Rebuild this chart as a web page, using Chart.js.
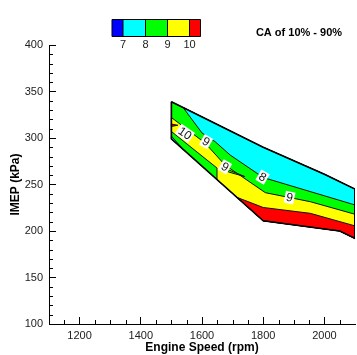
<!DOCTYPE html>
<html>
<head>
<meta charset="utf-8">
<title>CA of 10% - 90%</title>
<script src="https://cdn.jsdelivr.net/npm/chart.js@4"></script>
<style>
  html, body { margin: 0; padding: 0; background: #fff; }
  canvas { display: block; }
</style>
</head>
<body>
<canvas id="chart" width="357" height="355"></canvas>
<script>
// ============================================================
// 数据：坐标轴刻度、图例等级、各个等值区的边界点 (rpm, kPa)
// ============================================================
const xTicks = [1200, 1400, 1600, 1800, 2000];
const yTicks = [100, 150, 200, 250, 300, 350, 400];
const legendLevels = ['7', '8', '9', '10'];

// 外轮廓（整个测量区域）
const edgeRpm  = [1500, 1800, 2000, 2100, 2100, 2050, 1800, 1500, 1500];
const edgeImep = [339, 290, 261, 245, 192, 200, 211, 299, 339];

// 青色 7~8 区
const cyanRpm  = [1538, 1800, 2000, 2100, 2100, 1800, 1692, 1643, 1600, 1538];
const cyanImep = [332.8, 290, 261, 245, 228, 257.5, 281.7, 296, 305.4, 332.8];

// 黄色 9~10 区
const yellowRpm  = [1500, 1610, 1675, 1807, 1954, 2100, 2100, 2050, 1800, 1649, 1649, 1500, 1500];
const yellowImep = [322, 294.6, 271, 241.2, 231.5, 218, 192, 200, 211, 255.3, 267.7, 307, 322];

// 红色 >10 区
const redRpm  = [1714, 1800, 1954, 2100, 2100, 2050, 1800, 1714];
const redImep = [236.2, 225.3, 219, 205.5, 192, 200, 211, 236.2];

// 左上角的小红条、左下角的小青条、中间的绿色舌形
const redTipRpm  = [1500, 1521, 1500, 1500];
const redTipImep = [315, 313.7, 312.4, 315];
const cyanTipRpm  = [1500, 1540, 1500, 1500];
const cyanTipImep = [302, 287.3, 299, 302];
const tongueRpm  = [1678, 1740, 1686, 1678];
const tongueImep = [267, 258.5, 263.5, 267];

// 等值线标注
const labelText = ['10', '9', '9', '8', '9'];
const labelRpm  = [1544, 1613, 1675, 1798, 1886];
const labelImep = [305, 296, 269, 258, 236];
const labelAngle = [35, 30, 30, 30, 12];

// ============================================================
// 工具函数
// ============================================================
function toPoints(rpm, imep) {
    return rpm.map((x, i) => ({ x: x, y: imep[i] }));
}

// 一个封闭的多边形区域：fill 'shape' 填充内部
function region(rpm, imep, color, order) {
    return {
        data: toPoints(rpm, imep),
        backgroundColor: color,
        borderColor: '#111',
        borderWidth: 1,
        fill: 'shape',
        pointRadius: 0,
        tension: 0,
        order: order   // order 越大越先画（在下层）
    };
}

// ============================================================
// 插件：标注、次刻度、色标和标题
// ============================================================
const contourLabels = {
    id: 'contourLabels',
    afterDatasetsDraw(chart) {
        const { ctx, scales: { x, y } } = chart;
        ctx.save();
        ctx.font = '12px "Liberation Sans", Arial, sans-serif';
        ctx.textAlign = 'center';
        ctx.textBaseline = 'middle';
        labelText.forEach((t, i) => {
            ctx.save();
            ctx.translate(x.getPixelForValue(labelRpm[i]), y.getPixelForValue(labelImep[i]));
            ctx.rotate(labelAngle[i] * Math.PI / 180);
            const w = ctx.measureText(t).width + 3;
            ctx.fillStyle = '#fff';
            ctx.fillRect(-w / 2, -6, w, 12);
            ctx.fillStyle = '#111';
            ctx.fillText(t, 0, 0.5);
            ctx.restore();
        });
        ctx.restore();
    }
};

const minorTicks = {
    id: 'minorTicks',
    afterDraw(chart) {
        const { ctx, scales: { x, y } } = chart;
        ctx.save();
        ctx.strokeStyle = '#000';
        ctx.lineWidth = 1;
        ctx.beginPath();
        for (let v = 1150; v < 2100; v += 50) {
            if (v % 200 === 0) continue;
            const px = Math.round(x.getPixelForValue(v)) + 0.5;
            ctx.moveTo(px, y.bottom);
            ctx.lineTo(px, y.bottom - 4);
        }
        for (let v = 110; v < 400; v += 10) {
            if (v % 50 === 0) continue;
            const py = Math.round(y.getPixelForValue(v)) + 0.5;
            ctx.moveTo(x.left, py);
            ctx.lineTo(x.left + 4, py);
        }
        ctx.stroke();
        ctx.restore();
    }
};

const header = {
    id: 'header',
    afterDraw(chart) {
        const ctx = chart.ctx;
        ctx.save();
        // 色标
        const colors = ['#0000ff', '#00ffff', '#00ff00', '#ffff00', '#ff0000'];
        const edges = [112, 123, 145.5, 167.5, 189.5, 200.5];
        colors.forEach((c, i) => {
            ctx.fillStyle = c;
            ctx.fillRect(edges[i], 19.5, edges[i + 1] - edges[i], 17);
        });
        ctx.strokeStyle = '#000';
        ctx.lineWidth = 1;
        ctx.beginPath();
        edges.forEach(e => { ctx.moveTo(e, 19.5); ctx.lineTo(e, 36.5); });
        ctx.moveTo(112, 19.5); ctx.lineTo(200.5, 19.5);
        ctx.moveTo(112, 36.5); ctx.lineTo(200.5, 36.5);
        ctx.stroke();
        ctx.fillStyle = '#222';
        ctx.font = '11px "Liberation Sans", Arial, sans-serif';
        ctx.textAlign = 'center';
        ctx.textBaseline = 'middle';
        legendLevels.forEach((t, i) => ctx.fillText(t, edges[i + 1], 44.5));
        // 标题
        ctx.fillStyle = '#000';
        ctx.font = 'bold 11px "Liberation Sans", Arial, sans-serif';
        ctx.fillText('CA of 10% - 90%', 299, 32.5);
        ctx.restore();
    }
};

// ============================================================
// 主函数
// ============================================================
function initChart() {
    const ctx = document.getElementById('chart').getContext('2d');
    const tickFont = { family: '"Liberation Sans", Arial, sans-serif', size: 11 };
    const titleFont = { family: '"Liberation Sans", Arial, sans-serif', size: 12, weight: 'bold' };

    new Chart(ctx, {
        type: 'line',
        data: {
            datasets: [
                // 外轮廓线（最上层）
                {
                    data: toPoints(edgeRpm, edgeImep),
                    borderColor: '#000',
                    borderWidth: 1.6,
                    fill: false,
                    pointRadius: 0,
                    order: 0
                },
                region(cyanTipRpm, cyanTipImep, '#00ffff', 1),
                region(cyanRpm, cyanImep, '#00ffff', 2),
                region(redTipRpm, redTipImep, '#ff0000', 3),
                region(redRpm, redImep, '#ff0000', 4),
                region(tongueRpm, tongueImep, '#00ff00', 5),
                region(yellowRpm, yellowImep, '#ffff00', 6),
                region(edgeRpm, edgeImep, '#00ff00', 7)
            ]
        },
        options: {
            responsive: false,
            devicePixelRatio: 1,
            animation: false,
            layout: { padding: { top: 45, right: 2, bottom: 0, left: 0 } },
            plugins: {
                legend: { display: false },
                tooltip: { enabled: false }
            },
            scales: {
                x: {
                    type: 'linear',
                    min: 1100,
                    max: 2100,
                    afterBuildTicks: s => { s.ticks = xTicks.map(v => ({ value: v })); },
                    afterFit: s => { s.height = 31; },
                    grid: { drawOnChartArea: false, tickLength: -7, tickColor: '#000', tickWidth: 1 },
                    border: { color: '#000', width: 1 },
                    ticks: { padding: 12, color: '#222', font: tickFont, maxRotation: 0, autoSkip: false,
                             callback: v => String(v) },
                    title: { display: true, text: 'Engine Speed (rpm)', color: '#000', font: titleFont, padding: { top: 0, bottom: 0 } }
                },
                y: {
                    type: 'linear',
                    min: 100,
                    max: 400,
                    afterBuildTicks: s => { s.ticks = yTicks.map(v => ({ value: v })); },
                    afterFit: s => { s.width = 49; },
                    grid: { drawOnChartArea: false, tickLength: -7, tickColor: '#000', tickWidth: 1 },
                    border: { color: '#000', width: 1 },
                    ticks: { padding: 13, color: '#222', font: tickFont, autoSkip: false,
                             callback: v => String(v) },
                    title: { display: true, text: 'IMEP (kPa)', color: '#000', font: titleFont, padding: { top: 8, bottom: 0 } }
                }
            }
        },
        plugins: [contourLabels, minorTicks, header]
    });
}

document.addEventListener('DOMContentLoaded', initChart);
</script>
</body>
</html>
